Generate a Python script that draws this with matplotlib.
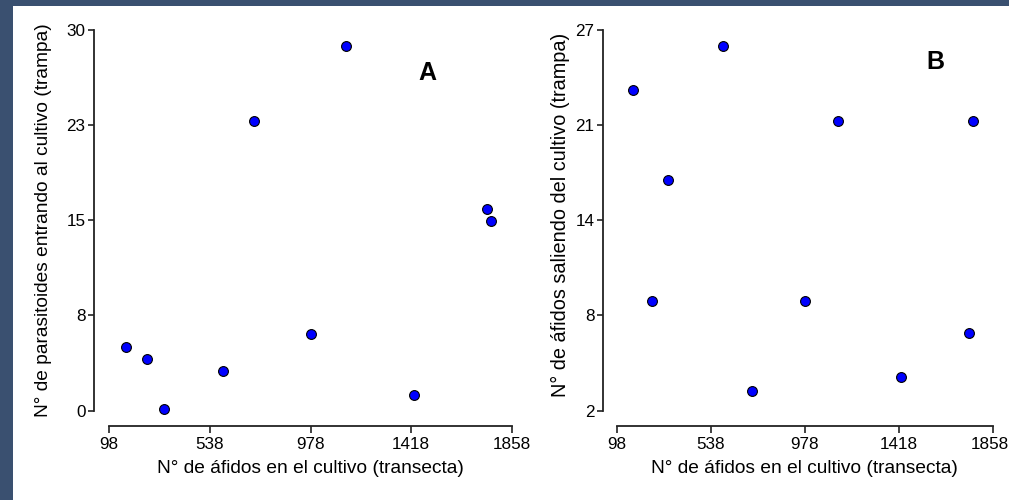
import matplotlib
matplotlib.use("Agg")
import matplotlib.pyplot as plt
import matplotlib.transforms as mtransforms
from matplotlib.patches import Rectangle

plt.rcParams['font.family'] = ['Liberation Sans', 'DejaVu Sans']

# Data
afidos_transecta = [173, 263, 339, 596, 733, 980, 1133, 1429, 1747, 1766]
parasitoides_entrando = [5.0, 4.1, 0.1, 3.1, 22.8, 6.0, 28.7, 1.2, 15.9, 14.9]
afidos_x_B = [173, 263, 339, 596, 733, 980, 1133, 1429, 1749, 1767]
afidos_saliendo = [23.0, 9.2, 17.1, 25.9, 3.3, 9.2, 21.0, 4.2, 7.1, 21.0]

x_ticks = [98, 538, 978, 1418, 1858]
x_ticklabels = ["98", "538", "978", "1418", "1858"]
yA_ticks = [0, 7.5, 15, 22.5, 30]
yA_ticklabels = ["0", "8", "15", "23", "30"]
yB_ticks = [2, 8.25, 14.5, 20.75, 27]
yB_ticklabels = ["2", "8", "14", "21", "27"]

xlabel = "N° de áfidos en el cultivo (transecta)"
ylabel_A = "N° de parasitoides entrando al cultivo (trampa)"
ylabel_B = "N° de áfidos saliendo del cultivo (trampa)"

W, H = 1009, 500
fig = plt.figure(figsize=(W / 100, H / 100), dpi=100)
fig.patch.set_facecolor("white")

# dark border on left and top
border = "#3a5070"
fig.patches.append(Rectangle((0, 0), 13 / W, 1, transform=fig.transFigure,
                             facecolor=border, edgecolor="none", zorder=0))
fig.patches.append(Rectangle((0, 1 - 6 / H), 1, 6 / H, transform=fig.transFigure,
                             facecolor=border, edgecolor="none", zorder=0))


def make_panel(rect, x, y, yticks, yticklabels, ylabel, letter, letter_xy, yoff, ylpad, ylsize):
    ax = fig.add_axes(rect)
    ax.scatter(x, y, s=50, facecolor="#0000ff", edgecolor="black",
               linewidth=0.8, zorder=3, clip_on=False)
    ax.set_xlim(98, 1858)
    ax.set_ylim(yticks[0], yticks[-1])
    for s in ["top", "right"]:
        ax.spines[s].set_visible(False)
    ax.spines["left"].set_position(("outward", yoff))
    ax.spines["bottom"].set_position(("outward", 11))
    ax.spines["left"].set_bounds(yticks[0], yticks[-1])
    ax.spines["bottom"].set_bounds(98, 1858)
    for s in ["left", "bottom"]:
        ax.spines[s].set_linewidth(1.3)
        ax.spines[s].set_color("#222222")
    ax.set_xticks(x_ticks)
    ax.set_xticklabels(x_ticklabels)
    ax.set_yticks(yticks)
    ax.set_yticklabels(yticklabels)
    ax.tick_params(axis="both", direction="out", length=4, width=1.2,
                   labelsize=12.3, colors="#222222", labelcolor="black")
    ax.tick_params(axis="x", length=5, pad=3)
    ax.tick_params(axis="y", pad=2)
    ax.set_xlabel(xlabel, fontsize=13.8, labelpad=6)
    ax.set_ylabel(ylabel, fontsize=ylsize, labelpad=ylpad)
    ax.text(letter_xy[0], letter_xy[1], letter, transform=ax.transAxes,
            fontsize=18, fontweight="bold", ha="center", va="center")
    return ax


rectA = [109 / W, 1 - 410.7 / H, (512 - 109) / W, (410.7 - 29.5) / H]
rectB = [616.7 / W, 1 - 410.7 / H, (992.7 - 616.7) / W, (410.7 - 29.5) / H]

axA = make_panel(rectA, afidos_transecta, parasitoides_entrando, yA_ticks,
                 yA_ticklabels, ylabel_A, "A", ((427 - 109) / 403, (410.7 - 73) / 381.2), 11, 10, 13.8)
axB = make_panel(rectB, afidos_x_B, afidos_saliendo, yB_ticks,
                 yB_ticklabels, ylabel_B, "B", ((935 - 616.7) / 376, (410.7 - 62) / 381.2), 10, 4, 14.3)
axB.yaxis.label.set_y((410.7 - 215) / 381.2)

# keep the last tick label of panel B inside the figure edge
last = axB.get_xticklabels()[-1]
last.set_transform(last.get_transform() +
                   mtransforms.ScaledTranslation(-3 / 100, 0, fig.dpi_scale_trans))

fig.savefig("out.png", dpi=100)
